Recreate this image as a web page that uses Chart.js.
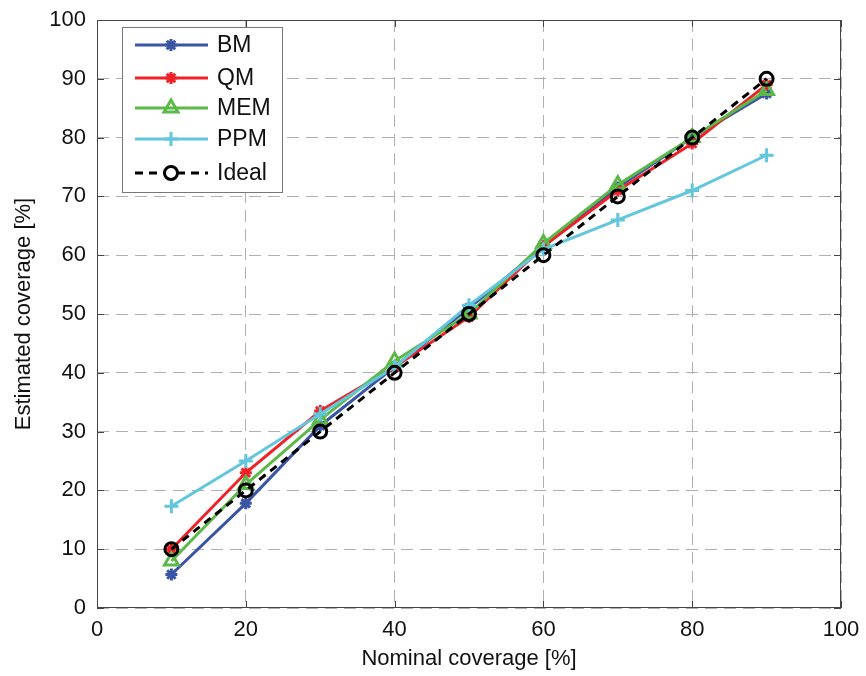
<!DOCTYPE html>
<html>
<head>
<meta charset="utf-8">
<script src="https://cdn.jsdelivr.net/npm/chart.js@4.4.1/dist/chart.umd.min.js"></script>
<style>
  html, body { margin: 0; padding: 0; background: #fff; }
  #wrap { width: 866px; height: 676px; }
</style>
</head>
<body>
<div id="wrap"><canvas id="chart"></canvas></div>
<script>
  // nominal coverage levels
  const nominal = [10, 20, 30, 40, 50, 60, 70, 80, 90];

  // estimated coverage per method
  const bmValues = [5.7, 17.8, 31, 41, 51, 61.5, 71.5, 80, 87.5];
  const qmValues = [10, 23, 33.5, 41, 49.5, 61.5, 71, 79, 89];
  const memValues = [8, 21, 32, 42, 50, 62, 72, 80, 88];
  const ppmValues = [17.3, 25, 33, 41, 51.5, 61, 66, 71, 77];
  const idealValues = [10, 20, 30, 40, 50, 60, 70, 80, 90];

  const xTicks = [0, 20, 40, 60, 80, 100];
  const yTicks = [0, 10, 20, 30, 40, 50, 60, 70, 80, 90, 100];

  const colors = {
    bm: "#3b55a5",
    qm: "#ee2228",
    mem: "#5cb947",
    ppm: "#62c6dc",
    ideal: "#000000",
    grid: "#b0b0b0",
    frame: "#444444",
  };

  const FONT = "'Liberation Sans', Arial, sans-serif";

  const pts = (ys) => nominal.map((x, i) => ({ x: x, y: ys[i] }));

  const makeSet = (label, ys, color, style, radius, order, dash) => ({
    label: label,
    data: pts(ys),
    borderColor: color,
    backgroundColor: color,
    borderWidth: 3,
    borderDash: dash || [],
    pointStyle: style,
    pointRadius: radius,
    pointBorderWidth: 3,
    pointBorderColor: color,
    pointBackgroundColor: "rgba(0,0,0,0)",
    order: order,
    tension: 0,
  });

  // frame + inner ticks, like the original plot box
  const framePlugin = {
    id: "frame",
    afterDraw(chart) {
      const { ctx, chartArea: a, scales } = chart;
      ctx.save();
      ctx.strokeStyle = colors.frame;
      ctx.lineWidth = 1;
      ctx.strokeRect(a.left + 0.5, a.top + 0.5, a.right - a.left - 1, a.bottom - a.top - 1);
      ctx.beginPath();
      xTicks.forEach((t) => {
        const x = Math.round(scales.x.getPixelForValue(t)) + 0.5;
        ctx.moveTo(x, a.bottom); ctx.lineTo(x, a.bottom - 7);
        ctx.moveTo(x, a.top); ctx.lineTo(x, a.top + 7);
      });
      yTicks.forEach((t) => {
        const y = Math.round(scales.y.getPixelForValue(t)) + 0.5;
        ctx.moveTo(a.left, y); ctx.lineTo(a.left + 7, y);
        ctx.moveTo(a.right, y); ctx.lineTo(a.right - 7, y);
      });
      ctx.stroke();
      ctx.restore();
    },
  };

  // legend box inside the plot, top-left
  const legendPlugin = {
    id: "insideLegend",
    afterDraw(chart) {
      const { ctx } = chart;
      const box = { left: 122, top: 27, width: 160, height: 165 };
      ctx.save();
      ctx.fillStyle = "#fff";
      ctx.fillRect(box.left, box.top, box.width, box.height);
      ctx.strokeStyle = "#777";
      ctx.lineWidth = 1;
      ctx.strokeRect(box.left + 0.5, box.top + 0.5, box.width, box.height);
      const rows = [45, 78, 108, 139, 173];
      const sets = chart.data.datasets;
      sets.forEach((ds, i) => {
        const y = rows[i];
        ctx.strokeStyle = ds.borderColor;
        ctx.lineWidth = 3;
        ctx.setLineDash(ds.borderDash);
        ctx.beginPath();
        ctx.moveTo(135, y);
        ctx.lineTo(208, y);
        ctx.stroke();
        ctx.setLineDash([]);
        if (ds.pointStyle === "circle") {
          ctx.fillStyle = "#fff";
          ctx.beginPath();
          ctx.arc(171, y, ds.pointRadius, 0, Math.PI * 2);
          ctx.fill();
        }
        ctx.fillStyle = "rgba(0,0,0,0)";
        Chart.helpers.drawPoint(ctx, {
          pointStyle: ds.pointStyle,
          radius: ds.pointRadius,
          rotation: 0,
          borderWidth: 3,
        }, 171, y);
        ctx.fillStyle = "#111";
        ctx.font = "23px " + FONT;
        ctx.textBaseline = "middle";
        ctx.textAlign = "left";
        ctx.fillText(ds.label, 217, y + 1);
      });
      ctx.restore();
    },
  };

  new Chart(document.getElementById("chart"), {
    type: "line",
    data: {
      datasets: [
        makeSet("BM", bmValues, colors.bm, "star", 6, 5),
        makeSet("QM", qmValues, colors.qm, "star", 6, 4),
        makeSet("MEM", memValues, colors.mem, "triangle", 8, 3),
        makeSet("PPM", ppmValues, colors.ppm, "cross", 7, 2),
        makeSet("Ideal", idealValues, colors.ideal, "circle", 6.5, 1, [8, 6]),
      ],
    },
    options: {
      responsive: true,
      maintainAspectRatio: false,
      animation: false,
      layout: { padding: { top: 20, right: 25, left: 0, bottom: 0 } },
      plugins: {
        legend: { display: false },
        tooltip: { enabled: false },
      },
      scales: {
        x: {
          type: "linear",
          min: 0,
          max: 100,
          afterBuildTicks: (s) => { s.ticks = xTicks.map((v) => ({ value: v })); },
          afterFit: (s) => { s.height = 68; s.paddingLeft = 0; s.paddingRight = 0; },
          grid: { color: colors.grid, lineWidth: 1, drawTicks: false },
          border: { display: false, dash: [12, 7] },
          ticks: { color: "#111", font: { family: FONT, size: 22 }, padding: 9, maxRotation: 0 },
          title: { display: true, text: "Nominal coverage [%]", color: "#111", font: { family: FONT, size: 22 }, padding: { top: 3 } },
        },
        y: {
          type: "linear",
          min: 0,
          max: 100,
          afterBuildTicks: (s) => { s.ticks = yTicks.map((v) => ({ value: v })); },
          afterFit: (s) => { s.width = 97; s.paddingTop = 0; s.paddingBottom = 0; },
          grid: { color: colors.grid, lineWidth: 1, drawTicks: false },
          border: { display: false, dash: [12, 7] },
          ticks: { color: "#111", font: { family: FONT, size: 22 }, padding: 11 },
          title: { display: true, text: "Estimated coverage [%]", color: "#111", font: { family: FONT, size: 22 }, padding: { top: 11, bottom: 4 } },
        },
      },
    },
    plugins: [framePlugin, legendPlugin],
  });
</script>
</body>
</html>
